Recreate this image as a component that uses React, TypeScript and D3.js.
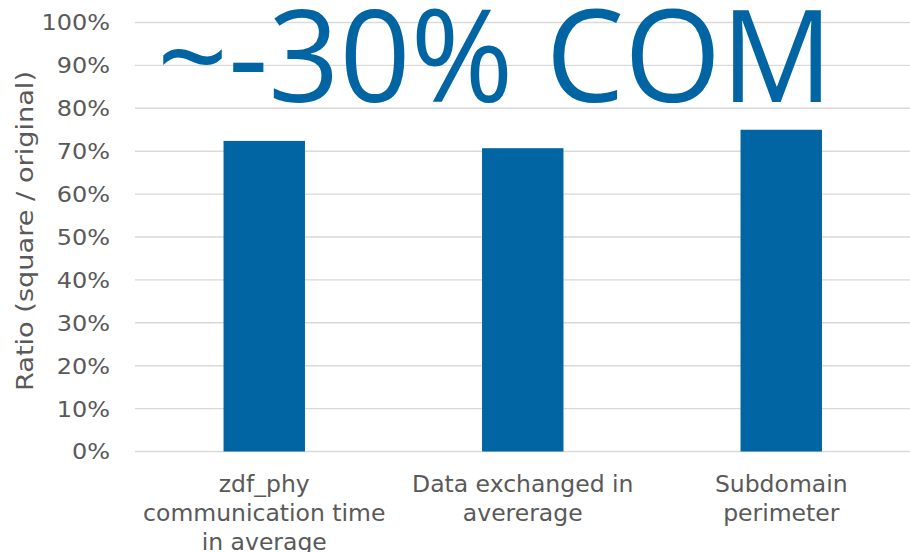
import React from "react";
import * as d3 from "d3";

const categories: string[][] = [
  ["zdf_phy", "communication time", "in average"],
  ["Data exchanged in", "avererage"],
  ["Subdomain", "perimeter"],
];
const ratios: number[] = [0.724, 0.707, 0.75];
const yTicks: number[] = [0, 0.1, 0.2, 0.3, 0.4, 0.5, 0.6, 0.7, 0.8, 0.9, 1.0];
const yTitle = "Ratio (square / original)";
const headline = "~-30% COM";

const W = 910;
const H = 552;
const left = 135;
const right = 910.5;
const top = 22.5;
const bottom = 451.5;
const font = "Verdana, 'DejaVu Sans', sans-serif";
const textColor = "#595959";
const barColor = "#0065A2";

// widen DejaVu text a little so it takes the room Verdana would
const tickFont = 22;
const tickWidth = (s: string) =>
  s.split("").reduce((w, c) => w + (c === "%" ? 0.95 : 0.636), 0) * tickFont * 1.09;

export default function App() {
  const x = d3
    .scaleBand<number>()
    .domain(categories.map((_, i) => i))
    .range([left, right])
    .paddingInner(0.685)
    .paddingOuter(0.3425);
  const y = d3.scaleLinear().domain([0, 1]).range([bottom, top]);
  const fmt = d3.format(".0%");

  return (
    <svg
      width={W}
      height={H}
      style={{ position: "absolute", left: 0, top: 0, background: "#fff" }}
      fontFamily={font}
    >
      {yTicks.map((t) => (
        <g key={t}>
          <line
            x1={left}
            x2={right}
            y1={y(t)}
            y2={y(t)}
            stroke="#d9d9d9"
            strokeWidth={1.4}
          />
          <text
            x={110}
            y={y(t)}
            dy="0.36em"
            textAnchor="end"
            fontSize={tickFont}
            fill={textColor}
            textLength={tickWidth(fmt(t))}
            lengthAdjust="spacingAndGlyphs"
          >
            {fmt(t)}
          </text>
        </g>
      ))}
      {ratios.map((v, i) => (
        <rect
          key={i}
          x={x(i)}
          y={y(v)}
          width={x.bandwidth()}
          height={y(0) - y(v)}
          fill={barColor}
        />
      ))}
      {categories.map((lines, i) => (
        <text
          key={i}
          textAnchor="middle"
          fontSize={23.5}
          fill={textColor}
        >
          {lines.map((l, j) => (
            <tspan key={j} x={(x(i) as number) + x.bandwidth() / 2} y={492 + j * 29}>
              {l}
            </tspan>
          ))}
        </text>
      ))}
      <text
        transform={`translate(33, 231) rotate(-90)`}
        textAnchor="middle"
        fontSize={23.5}
        fill={textColor}
        textLength={320}
        lengthAdjust="spacingAndGlyphs"
      >
        {yTitle}
      </text>
      <text
        x={157}
        y={101.5}
        fontFamily="'Open Sans', sans-serif"
        fontSize={128}
        fill={barColor}
        textLength={676}
        lengthAdjust="spacingAndGlyphs"
      >
        {headline}
      </text>
    </svg>
  );
}
